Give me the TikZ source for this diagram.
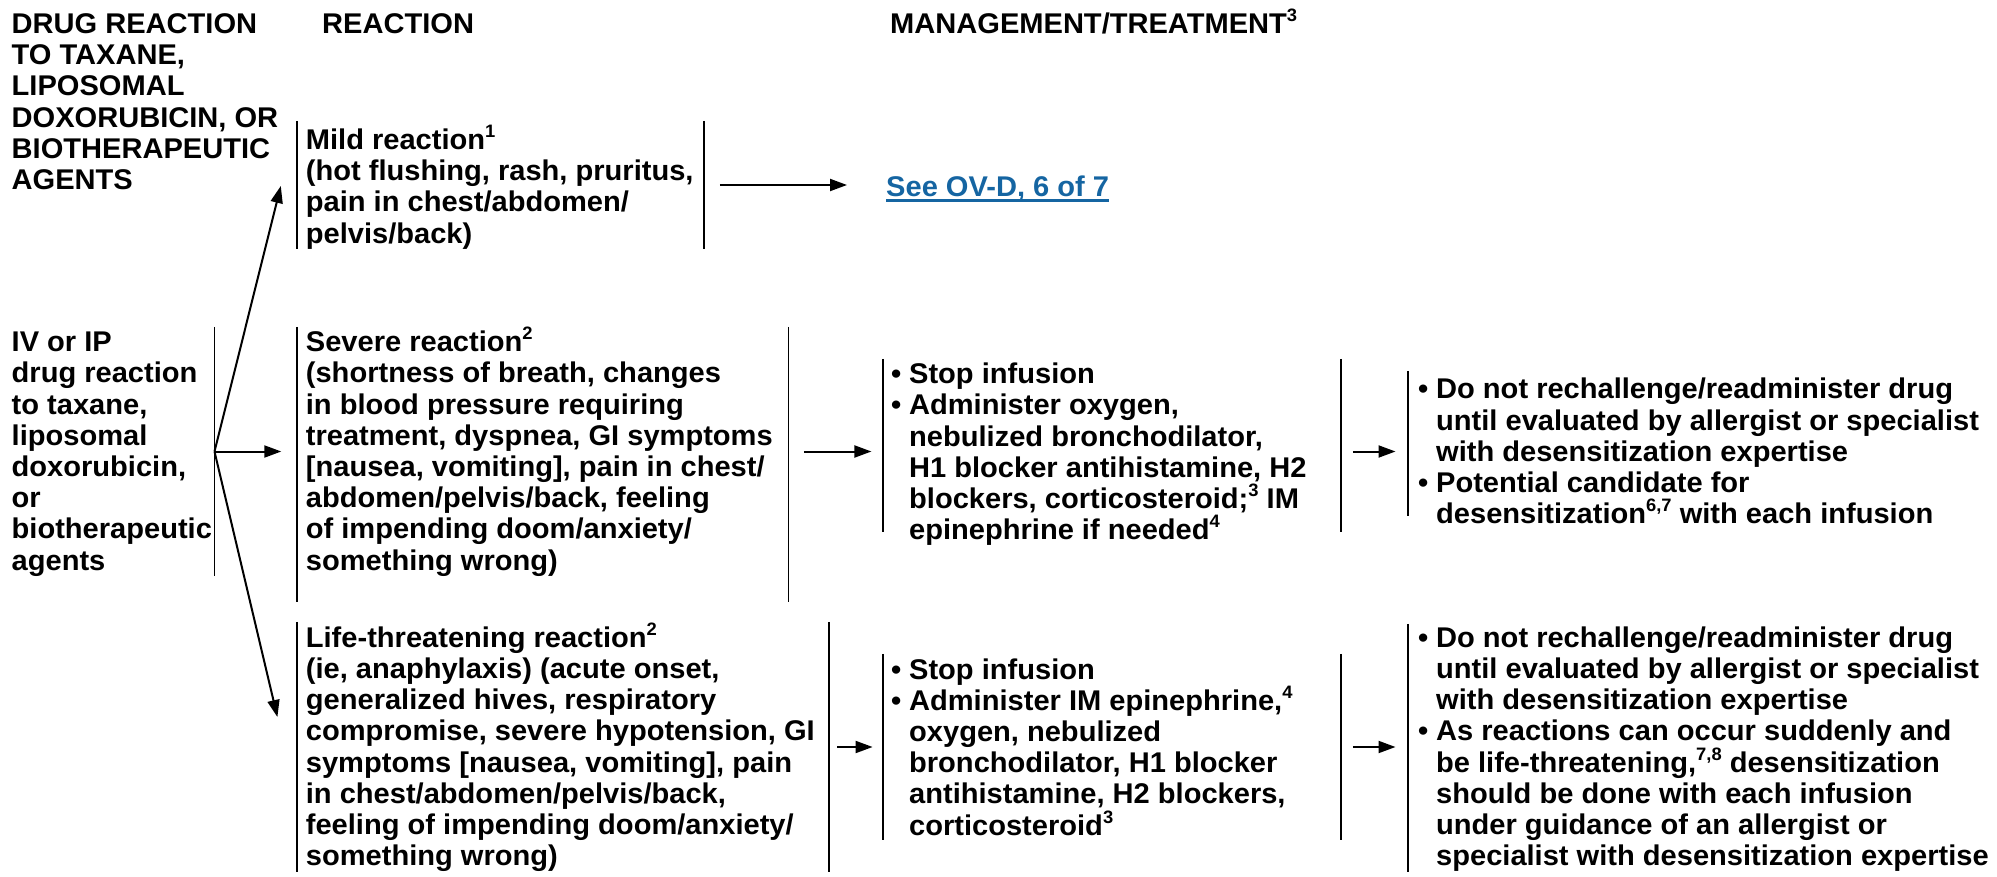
\documentclass[tikz,border=0pt]{standalone}
\usepackage{fontspec}
\setmainfont{Liberation Sans}[FakeStretch=1.02]
\usetikzlibrary{arrows.meta,calc,fit}
\definecolor{linkblue}{RGB}{21,101,162}
\newcommand\firstl{\rule{0pt}{0.9em}}
\newcommand\sups[1]{\raisebox{0.42em}{\fontsize{18}{18}\selectfont #1}}
\newcommand\bul{\makebox[0.63em][l]{•}}
\newcommand\hind{\hspace*{0.63em}}
\begin{document}
\begin{tikzpicture}[x=1pt,y=-1pt,
  txt/.style={anchor=north west, inner sep=0pt, align=left, font=\fontsize{28.5}{31.2}\selectfont\bfseries},
  onetxt/.style={anchor=north west, inner sep=0pt, font=\fontsize{28.5}{31.2}\selectfont\bfseries},
  bar/.style={line width=1.5pt},
  arr/.style={line width=2pt,-{Triangle[length=17pt,width=12pt]}},
  region/.style={inner sep=0pt, draw=none}]
\useasboundingbox (0,0) rectangle (1997,877);

% headers
\node[txt] (hdr1) at (11.5,7.6) {\firstl DRUG REACTION\\TO TAXANE,\\LIPOSOMAL\\DOXORUBICIN, OR\\BIOTHERAPEUTIC\\AGENTS};
\node[onetxt] (hdr2) at (322,7.6) {\firstl REACTION};
\node[onetxt] (hdr3) at (890,7.6) {\firstl MANAGEMENT/TREATMENT\sups{3}};

% regions (boxes marked by side bars)
\node[region, fit={(0,327) (214.3,576)}] (iv) {};
\node[region, fit={(297,121) (704,249)}] (mild) {};
\node[region, fit={(297,327) (788.4,602)}] (sev) {};
\node[region, fit={(883,359) (1341,532)}] (sevmg) {};
\node[region, fit={(1408,371) (1990,516)}] (sevout) {};
\node[region, fit={(297,622) (829,872)}] (life) {};
\node[region, fit={(883,654) (1341,840)}] (lifemg) {};
\node[region, fit={(1408,624) (1990,872)}] (lifeout) {};

% texts
\node[txt] (ivt) at (11.5,325.9) {\firstl IV or IP\\drug reaction\\to taxane,\\liposomal\\doxorubicin,\\or\\biotherapeutic\\agents};
\node[txt] (mildt) at (305.7,123.6) {\firstl Mild reaction\sups{1}\\(hot flushing, rash, pruritus,\\pain in chest/abdomen/\\pelvis/back)};
\node[onetxt, text=linkblue] (link) at (886,170.6) {\firstl See OV-D, 6 of 7};
\node[txt] (sevt) at (305.7,325.9) {\firstl Severe reaction\sups{2}\\(shortness of breath, changes\\in blood pressure requiring\\treatment, dyspnea, GI symptoms\\{[}nausea, vomiting{]}, pain in chest/\\abdomen/pelvis/back, feeling\\of impending doom/anxiety/\\something wrong)};
\node[txt] (sevmgt) at (891,357.8) {\firstl\bul Stop infusion\\\bul Administer oxygen,\\\hind nebulized bronchodilator,\\\hind H1 blocker antihistamine, H2\\\hind blockers, corticosteroid;\sups{3} IM\\\hind epinephrine if needed\sups{4}};
\node[txt] (sevoutt) at (1418,373) {\firstl\bul Do not rechallenge/readminister drug\\\hind until evaluated by allergist or specialist\\\hind with desensitization expertise\\\bul Potential candidate for\\\hind desensitization\sups{6,7} with each infusion};
\node[txt] (lifet) at (305.7,621.4) {\firstl Life-threatening reaction\sups{2}\\(ie, anaphylaxis) (acute onset,\\generalized hives, respiratory\\compromise, severe hypotension, GI\\symptoms {[}nausea, vomiting{]}, pain\\in chest/abdomen/pelvis/back,\\feeling of impending doom/anxiety/\\something wrong)};
\node[txt] (lifemgt) at (891,653.2) {\firstl\bul Stop infusion\\\bul Administer IM epinephrine,\sups{4}\\\hind oxygen, nebulized\\\hind bronchodilator, H1 blocker\\\hind antihistamine, H2 blockers,\\\hind corticosteroid\sups{3}};
\node[txt] (lifeoutt) at (1418,621.4) {\firstl\bul Do not rechallenge/readminister drug\\\hind until evaluated by allergist or specialist\\\hind with desensitization expertise\\\bul As reactions can occur suddenly and\\\hind be life-threatening,\sups{7,8} desensitization\\\hind should be done with each infusion\\\hind under guidance of an allergist or\\\hind specialist with desensitization expertise};

% link underline
\draw[linkblue, line width=2.4pt] ($(link.base west)+(0,4)$) -- ($(link.base east)+(0,4)$);

% bars
\draw[bar] (iv.north east) -- (iv.south east);
\foreach \n in {mild,sev,sevmg,life,lifemg} {
  \draw[bar] (\n.north west) -- (\n.south west);
  \draw[bar] (\n.north east) -- (\n.south east);
}
\draw[bar] (sevout.north west) -- (sevout.south west);
\draw[bar] (lifeout.north west) -- (lifeout.south west);

% arrows
\draw[arr] (iv.east) -- ($(mild.west)+(-16,1)$);
\draw[arr] (iv.east) -- ($(sev.west|-iv.east)+(-15.5,0)$);
\draw[arr] (iv.east) -- ($(life.west)+(-19.4,-30)$);
\draw[arr] ($(mild.east)+(15.6,0)$) -- ($(link.west|-mild.east)+(-39,0)$);
\draw[arr] ($(sev.east|-iv.east)+(15.2,0)$) -- ($(sevmg.west|-iv.east)+(-11.4,0)$);
\draw[arr] ($(sevmg.east|-iv.east)+(11.7,0)$) -- ($(sevout.west|-iv.east)+(-12.3,0)$);
\draw[arr] ($(life.east)+(7.8,0)$) -- ($(lifemg.west|-life.east)+(-10.2,0)$);
\draw[arr] ($(lifemg.east|-life.east)+(11.7,0)$) -- ($(lifeout.west|-life.east)+(-12.3,0)$);
\end{tikzpicture}
\end{document}
